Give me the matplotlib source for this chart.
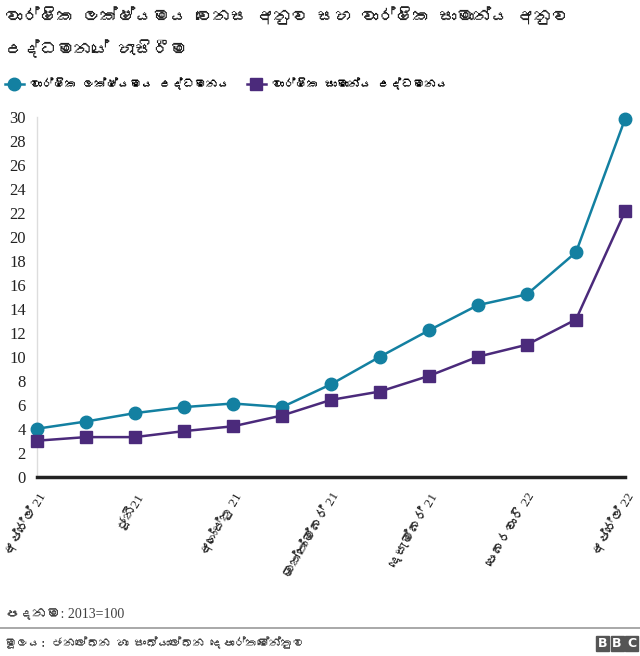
import matplotlib
matplotlib.use("Agg")
import matplotlib.pyplot as plt
from matplotlib import font_manager
from matplotlib.ft2font import FT2Font
from matplotlib.patches import Rectangle

# data (April 2021 .. April 2022, monthly)
months = list(range(13))
point_to_point = [4.0, 4.6, 5.3, 5.8, 6.1, 5.8, 7.7, 10.0, 12.2, 14.3, 15.2, 18.7, 29.8]
annual_average = [3.0, 3.3, 3.3, 3.8, 4.2, 5.1, 6.4, 7.1, 8.4, 10.0, 11.0, 13.1, 22.1]
tick_pos = [0, 2, 4, 6, 8, 10, 12]
tick_labels = ["අප්‍රේල් 21", "ජූනි21", "අගෝස්තු 21", "ඔක්තෝම්බර් 21",
               "දෙසැම්බර් 21", "පෙබරවාරි 22", "අප්‍රේල් 22"]

title = "වාර්ෂික ලක්ෂ්‍යමය වෙනස අනුව සහ වාර්ෂික සාමාන්‍ය අනුව\nඋද්ධමනයේ හැසිරීම"
label_p2p = "වාර්ෂික ලක්ෂ්‍යමය උද්ධමනය"
label_avg = "වාර්ෂික සාමාන්‍ය උද්ධමනය"
note = "පදනම: 2013=100"
source = "මූලය: ජනලේඛන හා සංඛ්‍යාලේඛන දෙපාර්තමේන්තුව"


def clean(s):
    # no text shaping here, so the zero width joiner would only draw a box
    return s.replace("\u200d", "")


# look for any installed font that has Sinhala glyphs
sinhala = []
for f in font_manager.fontManager.ttflist:
    try:
        if 0x0DC0 in FT2Font(f.fname).get_charmap():
            if f.name not in sinhala:
                sinhala.append(f.name)
    except Exception:
        pass

sans = sinhala + ["DejaVu Sans"]
serif = ["Liberation Serif"] + sinhala + ["DejaVu Serif"]
plt.rcParams["font.family"] = sans

teal = "#1380A1"
purple = "#4B2A7B"

fig = plt.figure(figsize=(6.4, 6.56), dpi=100)
ax = fig.add_axes([37 / 640, 1 - 476.7 / 656, (625 - 37) / 640, 360 / 656])

ax.plot(months, point_to_point, color=teal, lw=1.8, marker="o", ms=9,
        label=clean(label_p2p), clip_on=False, zorder=3)
ax.plot(months, annual_average, color=purple, lw=1.8, marker="s", ms=9,
        label=clean(label_avg), clip_on=False, zorder=3)

ax.set_xlim(0, 12)
ax.set_ylim(0, 30)
ax.set_yticks(range(0, 31, 2))
ax.set_yticklabels([str(v) for v in range(0, 31, 2)], family=serif, fontsize=12,
                   color="#222222")
ax.set_xticks(tick_pos)
ax.set_xticklabels([clean(t) for t in tick_labels], rotation=60, ha="right",
                   va="top", rotation_mode="anchor", fontsize=9.5,
                   color="#222222", family=serif)
ax.tick_params(axis="y", length=0, pad=8)
ax.tick_params(axis="x", length=0, pad=10)

for s in ["top", "right"]:
    ax.spines[s].set_visible(False)
ax.spines["left"].set_color("#dddddd")
ax.spines["left"].set_linewidth(1)
ax.spines["bottom"].set_color("#222222")
ax.spines["bottom"].set_linewidth(2.5)

fig.text(5 / 640, 1 - 32 / 656, clean(title), fontsize=12.5, fontweight="bold",
         color="#222222", va="center", linespacing=1.9)

leg = ax.legend(loc="lower left", bbox_to_anchor=(-37 / 588, 1.06), ncol=2,
                frameon=False, fontsize=8.5, handlelength=1.6, columnspacing=1.5,
                handletextpad=0.5, borderaxespad=0)

fig.text(5 / 640, 1 - 614 / 656, clean(note), fontsize=10, color="#404040",
         va="center", family=serif)
fig.add_artist(plt.Line2D([0, 1], [1 - 628 / 656, 1 - 628 / 656],
                          color="#999999", lw=1.2, transform=fig.transFigure))
fig.text(5 / 640, 1 - 643 / 656, clean(source), fontsize=8.5, color="#404040",
         va="center")

# BBC blocks
for i, ch in enumerate("BBC"):
    x0 = 596 + i * 14.5
    fig.add_artist(Rectangle((x0 / 640, 1 - 651 / 656), 13 / 640, 15 / 656,
                             transform=fig.transFigure, color="#555555"))
    fig.text((x0 + 6.5) / 640, 1 - 643.5 / 656, ch, color="white", fontsize=9,
             fontweight="bold", ha="center", va="center", family="DejaVu Sans")

fig.savefig("out.png", dpi=100)
